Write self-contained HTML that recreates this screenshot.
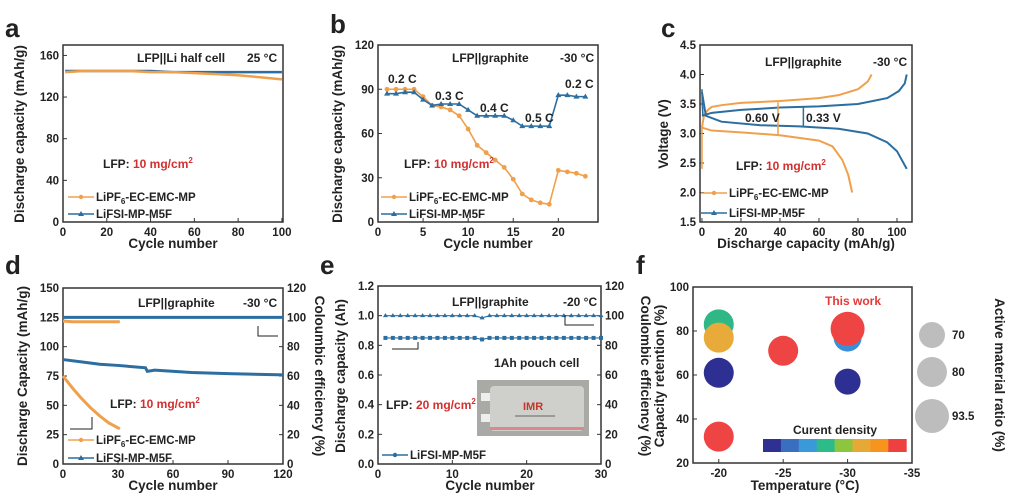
<!DOCTYPE html>
<html><head><meta charset="utf-8"><style>
html,body{margin:0;padding:0;background:#fff}
svg{display:block;font-family:"Liberation Sans",Arial,sans-serif;font-weight:bold}
</style></head><body>
<svg id="fig" width="1010" height="503" viewBox="0 0 1010 503"></svg>
<script>
// ---- data ----
const aCycles=[1,10,20,30,40,50,60,70,80,90,100];
const aOrange=[144,145,145,145,144,144,143,142,141,139,137];
const aBlue=[145,145,145,145,145,144,144,144,144,144,144];
const bCycles=[1,2,3,4,5,6,7,8,9,10,11,12,13,14,15,16,17,18,19,20,21,22,23];
const bOrange=[90,90,90,90,85,79,78,76,72,63,52,47,42,37,29,19,15,13,12,35,34,33,31];
const bBlue=[87,87,88,88,83,79,80,80,80,76,72,72,72,72,69,65,65,65,65,86,86,85,85];
const cOrChgX=[0,1,3,5,10,20,40,60,70,80,85,87];
const cOrChgY=[3.1,3.3,3.4,3.45,3.48,3.52,3.55,3.6,3.65,3.75,3.88,4.0];
const cOrDisX=[0,5,20,40,60,67,72,75,77];
const cOrDisY=[3.1,3.05,3.02,2.97,2.88,2.78,2.55,2.3,2.0];
const cBlChgX=[0,5,20,40,60,80,95,101,104,105];
const cBlChgY=[3.3,3.35,3.4,3.44,3.46,3.5,3.6,3.72,3.85,4.0];
const cBlDisX=[0,2,10,30,50,70,85,95,100,105];
const cBlDisY=[3.7,3.3,3.2,3.14,3.12,3.08,3.0,2.85,2.7,2.4];
const dCycles=[0,10,20,30,45,46,50,70,90,120];
const dBlueCap=[89,87,85,84,82,79,80,78,77,76];
const dOrCycles=[0,5,10,15,20,25,31];
const dOrCap=[75,65,56,48,41,35,30];
const dOrCE=[97.5,97,97,97,97,97,97];
const dBlueCE=[100,100,100,100,100,100,100,100,100,100];
const eCycles=[1,2,3,4,5,6,7,8,9,10,11,12,13,14,15,16,17,18,19,20,21,22,23,24,25,26,27,28,29,30];
const eCap=[0.85,0.85,0.85,0.85,0.85,0.85,0.85,0.85,0.85,0.85,0.85,0.85,0.85,0.84,0.85,0.85,0.85,0.85,0.85,0.85,0.85,0.85,0.85,0.85,0.85,0.85,0.85,0.85,0.85,0.85];
const eCE=[100,100,100,100,100,100,100,100,100,100,100,100,100,98.5,100,100,100,100,100,100,100,100,100,100,100,100,100,100,100,100];
const fTemp=[-20,-20,-20,-20,-25,-30,-30,-30];
const fRet=[83,77,61,32,71,77,81,57];
const fColor=["#2fb886","#e8aa38","#2e2f92","#ef4444","#ef4444","#3a8fd6","#ef4444","#2e2f92"];
const fSize=[15,15,15,15,15,14,17,13];
const cbColors=["#2e3192","#3a6fc0","#3a9ad9","#2dbb8a","#8cc63f","#e6a935","#f7941d","#ef4040"];

const NS="http://www.w3.org/2000/svg";
const svg=document.getElementById("fig");
const OR="#f0a04b", BL="#2c6ea0";
function el(tag,attrs,parent,text){const e=document.createElementNS(NS,tag);for(const k in attrs)e.setAttribute(k,attrs[k]);if(text!==undefined)e.textContent=text;(parent||svg).appendChild(e);return e;}
function lin(d0,d1,r0,r1){return v=>r0+(v-d0)*(r1-r0)/(d1-d0);}

function panel(name,L,T,R,B,xd,yd,xt,yt,yt2,yd2){
  const g=el("g",{});
  
  
  const X=lin(xd[0],xd[1],L,R),Y=lin(yd[0],yd[1],B,T);
  el("rect",{x:L,y:T,width:R-L,height:B-T,fill:"none",stroke:"#333","stroke-width":1.5},g);
  xt.forEach(v=>{const x=X(v);el("line",{x1:x,x2:x,y1:B,y2:B-4,stroke:"#333"},g);
    const t=el("text",{x:x,y:B+14,"font-size":11.5,"text-anchor":"middle",fill:"#222"},g,v);
    });
  yt.forEach(v=>{const y=Y(v);el("line",{x1:L,x2:L+4,y1:y,y2:y,stroke:"#333"},g);
    const t=el("text",{x:L-4,y:y+4,"font-size":11.5,"text-anchor":"end",fill:"#222"},g,v);
    });
  if(yt2){const Y2=lin(yd2[0],yd2[1],B,T);yt2.forEach(v=>{const y=Y2(v);el("line",{x1:R,x2:R-4,y1:y,y2:y,stroke:"#333"},g);
    const t=el("text",{x:R+4,y:y+4,"font-size":11.5,"text-anchor":"start",fill:"#222"},g,v);
    });}
  return {g,X,Y};
}
function poly(g,xs,ys,X,Y,color,w){const pts=xs.map((x,i)=>X(x)+","+Y(ys[i])).join(" ");return el("polyline",{points:pts,fill:"none",stroke:color,"stroke-width":w||1.6},g);}
function txt(x,y,s,size,opts){const t=el("text",Object.assign({x:x,y:y,"font-size":size,fill:"#222"},opts||{}),svg,s);return t;}
function vtitle(x,y,s,size,rot){const t=el("text",{x:0,y:0,"font-size":size||13.5,"text-anchor":"middle",fill:"#222",transform:`translate(${x},${y}) rotate(${rot||-90})`},svg,s);return t;}
function letter(x,y,s){const t=txt(x,y,s,26);}
function lfp(x,y,val){const t=el("text",{x:x,y:y,"font-size":12,fill:"#222"},svg);
  el("tspan",{},t,"LFP: ");el("tspan",{fill:"#d32f2f"},t,val+" mg/cm");el("tspan",{fill:"#d32f2f","font-size":8,dy:-5},t,"2");}
function legend(x,y,color,label,sub,marker){const g=el("g",{});
  el("line",{x1:x,x2:x+26,y1:y,y2:y,stroke:color,"stroke-width":1.6},g);
  if(marker==="tri")el("path",{d:`M${x+13},${y-3}l3,5h-6z`,fill:color},g);else el("circle",{cx:x+13,cy:y,r:2.2,fill:color},g);
  const t=el("text",{x:x+28,y:y+4,"font-size":11.5,fill:"#222"},g);
  if(sub){el("tspan",{},t,"LiPF");el("tspan",{"font-size":8,dy:3},t,"6");el("tspan",{dy:-3},t,"-EC-EMC-MP");}else t.textContent=label;}

// ---- panel a ----
letter(5,37,"a");
let p=panel("panel-a",63,45,283,222,[0,100.5],[0,170],[0,20,40,60,80,100],[0,40,80,120,160]);
poly(p.g,aBlue.map((_,i)=>aCycles[i]),aBlue,p.X,p.Y,BL,2.5);
poly(p.g,aCycles,aOrange,p.X,p.Y,OR,2.5);
txt(137,62,"LFP||Li half cell",12);txt(247,62,"25 °C",12);
lfp(103,168,"10");
legend(68,197,OR,"",true);legend(68,214,BL,"LiFSI-MP-M5F",false,"tri");
vtitle(24,134,"Discharge capacity (mAh/g)");
txt(173,248,"Cycle number",13.5,{"text-anchor":"middle"});

// ---- panel b ----
letter(330,33,"b");
p=panel("panel-b",378,45,598,222,[0,24.4],[0,120],[0,5,10,15,20],[0,30,60,90,120]);
poly(p.g,bCycles,bOrange,p.X,p.Y,OR);
bCycles.forEach((c,i)=>{const m=el("circle",{cx:p.X(c),cy:p.Y(bOrange[i]),r:2.4,fill:OR},p.g);});
poly(p.g,bCycles,bBlue,p.X,p.Y,BL);
bCycles.forEach((c,i)=>{const x=p.X(c),y=p.Y(bBlue[i]);const m=el("path",{d:`M${x},${y-3}l3,5h-6z`,fill:BL},p.g);});
txt(452,62,"LFP||graphite",12);txt(560,62,"-30 °C",12);
txt(388,83,"0.2 C",12);txt(435,100,"0.3 C",12);txt(480,112,"0.4 C",12);txt(525,122,"0.5 C",12);txt(565,88,"0.2 C",12);
lfp(404,168,"10");
legend(381,197,OR,"",true);legend(381,214,BL,"LiFSI-MP-M5F",false,"tri");
vtitle(342,134,"Discharge capacity (mAh/g)");
txt(488,248,"Cycle number",13.5,{"text-anchor":"middle"});

// ---- panel c ----
letter(661,37,"c");
p=panel("panel-c",700,45,912,222,[-1,107.7],[1.5,4.5],[0,20,40,60,80,100],["1.5","2.0","2.5","3.0","3.5","4.0","4.5"]);
poly(p.g,[0,0,0.3],[2.4,3.1,3.15],p.X,p.Y,OR);
poly(p.g,[0,0.2,0.5],[3.75,3.5,3.3],p.X,p.Y,BL);
poly(p.g,cOrChgX,cOrChgY,p.X,p.Y,OR,2);poly(p.g,cOrDisX,cOrDisY,p.X,p.Y,OR,2);
poly(p.g,cBlChgX,cBlChgY,p.X,p.Y,BL,2);poly(p.g,cBlDisX,cBlDisY,p.X,p.Y,BL,2);
el("line",{x1:p.X(39),x2:p.X(39),y1:p.Y(3.53),y2:p.Y(2.97),stroke:OR,"stroke-width":1.5});
el("line",{x1:p.X(52),x2:p.X(52),y1:p.Y(3.45),y2:p.Y(3.12),stroke:BL,"stroke-width":1.5});
txt(745,122,"0.60 V",12);txt(806,122,"0.33 V",12);
txt(765,66,"LFP||graphite",12);txt(873,66,"-30 °C",12);
lfp(736,170,"10");
legend(701,193,OR,"",true);legend(701,213,BL,"LiFSI-MP-M5F",false,"tri");
vtitle(668,134,"Voltage (V)");
txt(806,248,"Discharge capacity (mAh/g)",13.5,{"text-anchor":"middle"});

// ---- panel d ----
letter(5,274,"d");
p=panel("panel-d",63,288,283,464,[0,120],[0,150],[0,30,60,90,120],[0,25,50,75,100,125,150],[0,20,40,60,80,100,120],[0,120]);
const Y2d=lin(0,120,464,288);
poly(p.g,dCycles,dBlueCE,p.X,Y2d,BL,3);
poly(p.g,dOrCycles,dOrCE,p.X,Y2d,OR,3);
poly(p.g,dCycles,dBlueCap,p.X,p.Y,BL,3);
poly(p.g,dOrCycles,dOrCap,p.X,p.Y,OR,3);
el("polyline",{points:"92,417 92,429 70,429",fill:"none",stroke:"#222","stroke-width":1});
el("polyline",{points:"258,326 258,336 278,336",fill:"none",stroke:"#222","stroke-width":1});
txt(138,307,"LFP||graphite",12);txt(243,307,"-30 °C",12);
lfp(110,408,"10");
legend(68,440,OR,"",true);legend(68,458,BL,"LiFSI-MP-M5F",false,"tri");
vtitle(27,376,"Discharge Capacity (mAh/g)");
vtitle(315,376,"Coloumbic efficiency (%)",13.5,90);
txt(173,490,"Cycle number",13.5,{"text-anchor":"middle"});

// ---- panel e ----
letter(320,274,"e");
p=panel("panel-e",378,286,601,464,[0,30],[0,1.2],[0,10,20,30],["0.0","0.2","0.4","0.6","0.8","1.0","1.2"],[0,20,40,60,80,100,120],[0,120]);
const Y2e=lin(0,120,464,286);
poly(p.g,eCycles,eCE,p.X,Y2e,BL,1.2);
eCycles.forEach((c,i)=>{const x=p.X(c),y=Y2e(eCE[i]);const m=el("path",{d:`M${x},${y-2.5}l2.5,4h-5z`,fill:BL},p.g);});
poly(p.g,eCycles,eCap,p.X,p.Y,BL,1.2);
eCycles.forEach((c,i)=>{const m=el("rect",{x:p.X(c)-2,y:p.Y(eCap[i])-2,width:4,height:4,fill:BL},p.g);});
el("polyline",{points:"418,342 418,349 392,349",fill:"none",stroke:"#222","stroke-width":1});
el("polyline",{points:"565,315 565,325 594,325",fill:"none",stroke:"#222","stroke-width":1});
txt(452,306,"LFP||graphite",12);txt(563,306,"-20 °C",12);
txt(494,367,"1Ah pouch cell",12);
lfp(386,409,"20");
const ph=el("g",{});
el("rect",{x:477,y:380,width:112,height:56,fill:"#a9a9a6"},ph);
el("rect",{x:490,y:386,width:94,height:45,rx:4,fill:"#cfcfcc"},ph);
el("rect",{x:481,y:393,width:9,height:8,fill:"#eee"},ph);el("rect",{x:481,y:414,width:9,height:8,fill:"#eee"},ph);
el("text",{x:523,y:410,"font-size":11,fill:"#c0392b"},ph,"IMR");
el("line",{x1:515,x2:555,y1:416,y2:416,stroke:"#666"},ph);
el("rect",{x:490,y:427,width:94,height:3,fill:"#d88a8a"},ph);
legend(382,455,BL,"LiFSI-MP-M5F",false,"sq");
vtitle(345,376,"Discharge capacity (Ah)");
vtitle(641,376,"Coulombic efficiency (%)",13.5,90);
txt(490,490,"Cycle number",13.5,{"text-anchor":"middle"});

// ---- panel f ----
letter(636,274,"f");
p=panel("panel-f",693,287,912,463,[-18,-35],[20,100],[-20,-25,-30,-35],[20,40,60,80,100]);
fTemp.forEach((t,i)=>{const c=el("circle",{cx:p.X(t),cy:p.Y(fRet[i]),r:fSize[i],fill:fColor[i]},p.g);});
txt(825,305,"This work",12,{fill:"#e53935"});
txt(793,434,"Curent density",12);
cbColors.forEach((c,i)=>{const r=el("rect",{x:763+i*17.9,y:439,width:18.4,height:13,fill:c});});
[[932,335,13,"70"],[932,372,15,"80"],[932,416,17,"93.5"]].forEach(s=>{const c=el("circle",{cx:s[0],cy:s[1],r:s[2],fill:"#bdbdbd"});txt(952,s[1]+4,s[3],11.5);});
vtitle(664,376,"Capacity retention (%)");
vtitle(995,375,"Active material ratio (%)",13.5,90);
txt(805,490,"Temperature (°C)",13.5,{"text-anchor":"middle"});
</script>
</body></html>
